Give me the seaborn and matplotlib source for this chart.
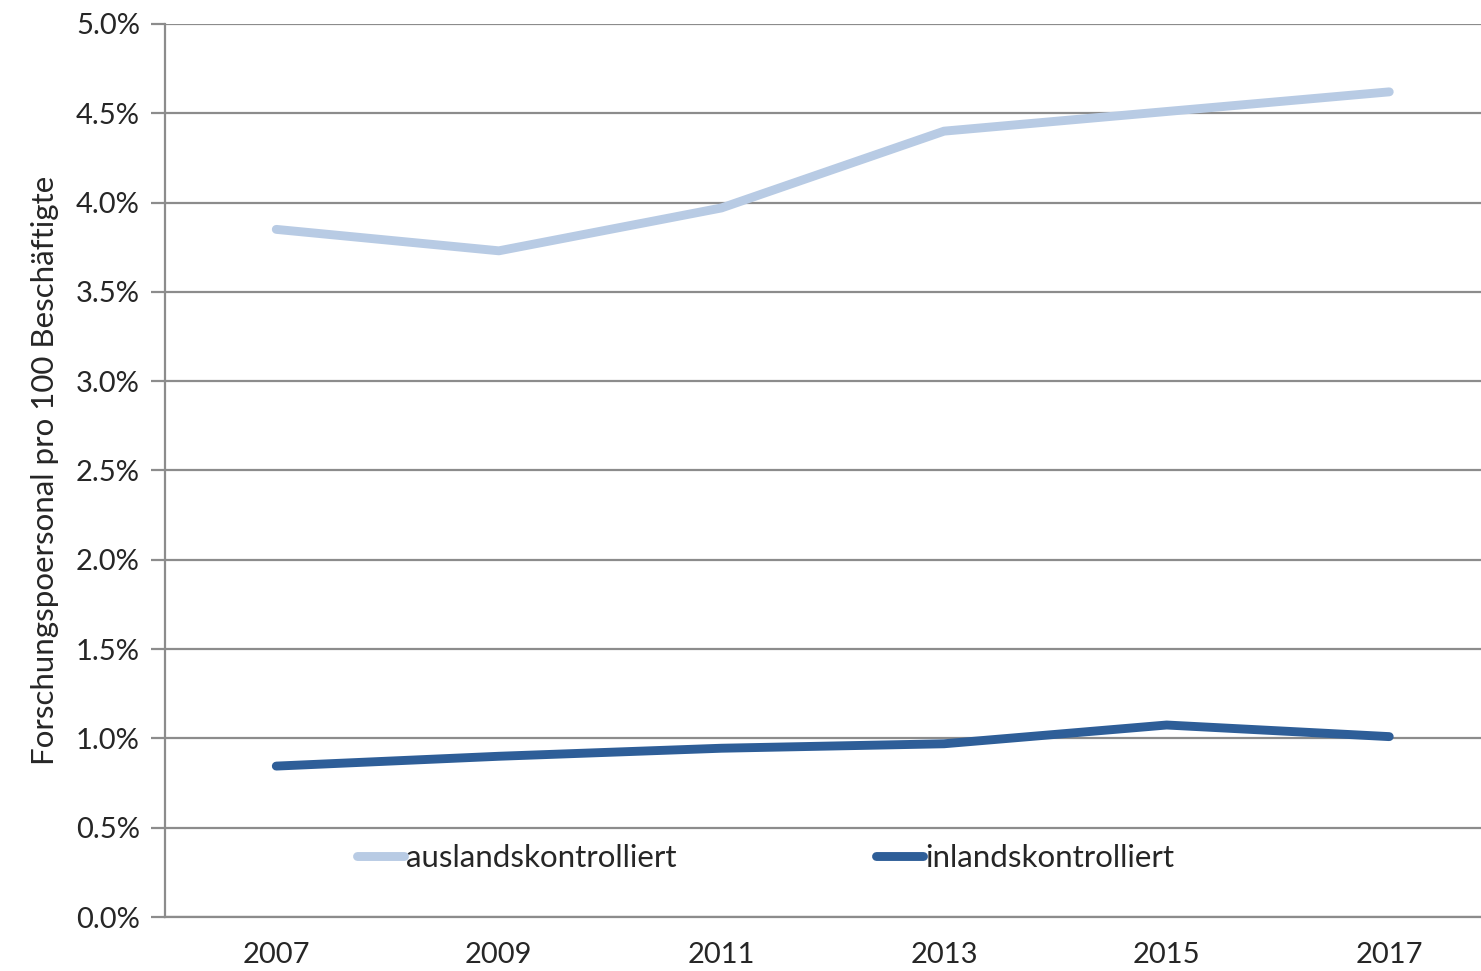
import numpy as np
import pandas as pd
import matplotlib
matplotlib.use("Agg")
import matplotlib.pyplot as plt
import seaborn as sns
from matplotlib.ticker import FuncFormatter, FixedLocator

# Daten
jahre = ["2007", "2009", "2011", "2013", "2015", "2017"]
ausland = [3.85, 3.73, 3.97, 4.40, 4.51, 4.62]
inland = [0.845, 0.90, 0.945, 0.97, 1.075, 1.01]
serien = ["auslandskontrolliert", "inlandskontrolliert"]
farben = ["#b8cbe4", "#2e5e98"]

df = pd.DataFrame({
    "Jahr": jahre * 2,
    "pos": list(range(len(jahre))) * 2,
    "Wert": ausland + inland,
    "Serie": [serien[0]] * len(jahre) + [serien[1]] * len(jahre),
})

sns.set_theme(style="white")
plt.rcParams["font.family"] = ["Lato", "DejaVu Sans"]

fig = plt.figure(figsize=(14.81, 9.71), dpi=100)
ax = fig.add_axes([0.1114, 0.0556, 0.9018, 0.9197])

sns.lineplot(data=df, x="pos", y="Wert", hue="Serie", palette=farben,
             linewidth=6.4, ax=ax, legend=True)
for ln in ax.get_lines():
    ln.set_solid_capstyle("round")

ax.set_xlim(-0.5, len(jahre) - 0.5)
ax.set_ylim(0, 5.0)
ax.set_yticks(np.arange(0, 5.01, 0.5))
ax.yaxis.set_major_formatter(FuncFormatter(lambda v, p: f"{v:.1f}%"))
ax.yaxis.grid(True, color="#8c8c8c", linewidth=1.6)
ax.set_axisbelow(True)

ax.set_xticks(range(len(jahre)))
ax.set_xticklabels(jahre)
ax.xaxis.set_minor_locator(FixedLocator(np.arange(-0.5, len(jahre), 1)))
ax.tick_params(axis="x", which="major", length=0, labelsize=21, pad=18, colors="#262626")
ax.tick_params(axis="x", which="minor", length=8, width=1.6, color="#8c8c8c", direction="out")
ax.tick_params(axis="y", length=10, width=1.6, labelsize=21, pad=8, left=True)
ax.tick_params(axis="y", colors="#8c8c8c", labelcolor="#262626")

for s in ["top", "right"]:
    ax.spines[s].set_visible(False)
for s in ["left", "bottom"]:
    ax.spines[s].set_color("#8c8c8c")
    ax.spines[s].set_linewidth(1.6)

ax.set_xlabel("")
ax.set_ylabel("Forschungspoersonal pro 100 Beschäftigte", fontsize=22.5, color="#262626", labelpad=12)

handles, labels = ax.get_legend_handles_labels()
ax.legend(handles, labels, loc="center", bbox_to_anchor=(0.517, 0.116),
          bbox_transform=fig.transFigure, ncol=2, frameon=False, fontsize=22.5,
          handlelength=1.5, handletextpad=0.05, columnspacing=6.4,
          labelcolor="#262626")

fig.savefig("out.png", dpi=100)
